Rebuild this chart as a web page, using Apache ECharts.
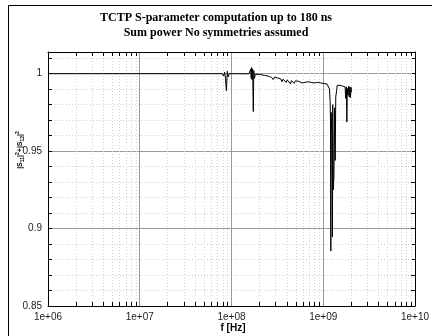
<!DOCTYPE html>
<html>
<head>
<meta charset="utf-8">
<script src="https://cdn.jsdelivr.net/npm/echarts@6/dist/echarts.min.js"></script>
<style>
  html, body { margin: 0; padding: 0; background: #fff; }
  #chart { width: 432px; height: 336px; }
</style>
</head>
<body>
<div id="chart"></div>
<script>
// Sum power |S11|^2 + |S12|^2 versus frequency (TCTP, 180 ns computation)
const freqHz = [
  1e6, 7.9e7, 8.0e7, 8.2e7, 8.4e7, 8.6e7, 8.8e7, 9.0e7, 9.2e7, 9.5e7,
  1.55e8, 1.6e8, 1.62e8, 1.64e8, 1.66e8, 1.68e8, 1.7e8, 1.73e8, 1.75e8, 1.78e8, 1.82e8,
  2.0e8, 2.3e8, 2.6e8, 2.75e8, 2.85e8, 2.95e8, 3.2e8, 3.45e8, 3.55e8, 3.65e8,
  3.8e8, 3.95e8, 4.05e8, 4.25e8, 4.4e8, 4.5e8, 4.65e8, 4.8e8, 4.95e8, 5.15e8,
  5.35e8, 5.6e8, 5.9e8, 6.2e8, 6.8e8, 7.4e8, 7.9e8, 8.3e8, 8.7e8, 9.4e8,
  1.02e9, 1.1e9, 1.15e9, 1.17e9, 1.19e9, 1.2e9, 1.21e9, 1.22e9, 1.24e9, 1.25e9,
  1.26e9, 1.27e9, 1.29e9, 1.31e9, 1.33e9, 1.35e9, 1.37e9, 1.4e9, 1.42e9, 1.47e9,
  1.52e9, 1.57e9, 1.62e9, 1.68e9, 1.73e9, 1.76e9, 1.79e9, 1.81e9, 1.83e9, 1.86e9,
  1.89e9, 1.92e9, 1.95e9, 1.98e9, 2.01e9, 2.03e9
];
const sumPower = [
  1.0, 1.0, 1.0005, 0.9985, 1.001, 0.997, 0.989, 1.0015, 0.998, 1.0,
  0.9999, 1.0, 1.003, 0.997, 1.004, 0.996, 1.003, 0.9755, 1.002, 0.997, 0.9995,
  0.9996, 0.9989, 0.9982, 0.9975, 0.9962, 0.9978, 0.9972, 0.9966, 0.9948, 0.9964,
  0.9962, 0.9944, 0.996, 0.9952, 0.9934, 0.9955, 0.9948, 0.9938, 0.9953, 0.9942,
  0.9952, 0.9947, 0.994, 0.995, 0.9948, 0.9944, 0.994, 0.993, 0.9944, 0.994,
  0.9936, 0.9934, 0.9928, 0.99, 0.982, 0.97, 0.8855, 0.975, 0.96, 0.93,
  0.8945, 0.98, 0.925, 0.935, 0.978, 0.944, 0.985, 0.989, 0.9925, 0.9915,
  0.9925, 0.9918, 0.992, 0.9912, 0.9915, 0.984, 0.9915, 0.9689, 0.9905, 0.986,
  0.992, 0.985, 0.9915, 0.9845, 0.9912, 0.988
];

const xTicks = [1e6, 1e7, 1e8, 1e9, 1e10];
const xTickLabels = ['1e+06', '1e+07', '1e+08', '1e+09', '1e+10'];
const yTicks = [0.85, 0.9, 0.95, 1];
const yTickLabels = ['0.85', '0.9', '0.95', '1'];
const yMin = 0.85, yMax = 1.014;

// minor log ticks at 2..9 of each decade
const xMinor = [];
for (let d = 6; d < 10; d++) {
  for (let m = 2; m <= 9; m++) xMinor.push([m * Math.pow(10, d), yMin]);
}

const chart = echarts.init(document.getElementById('chart'), null, { renderer: 'canvas' });

const majorGrid = { show: true, lineStyle: { color: '#9a9a9a', width: 1, type: 'solid' } };
const minorGrid = { show: true, lineStyle: { color: '#cfcfcf', width: 1, type: [1, 2] } };
const labelFont = { fontFamily: 'Liberation Sans', fontSize: 10, color: '#222' };

function xLabel(v) {
  const i = xTicks.findIndex(t => Math.abs(Math.log10(t) - Math.log10(v)) < 1e-6);
  return i >= 0 ? xTickLabels[i] : '';
}
function yLabel(v) {
  const i = yTicks.findIndex(t => Math.abs(t - v) < 1e-9);
  return i >= 0 ? yTickLabels[i] : '';
}

chart.setOption({
  animation: false,
  backgroundColor: '#fff',
  title: {
    text: 'TCTP S-parameter computation up to 180 ns\nSum power No symmetries assumed',
    left: 'center',
    top: 5,
    textStyle: {
      fontFamily: 'Liberation Serif', fontWeight: 'bold', fontSize: 12,
      lineHeight: 15, color: '#000'
    }
  },
  graphic: [
    {
      type: 'rect', silent: true, z: 0,
      shape: { x: 8.5, y: 5.5, width: 600, height: 600 },
      style: { fill: 'none', stroke: '#000', lineWidth: 1 }
    },
    {
      type: 'text', silent: true,
      x: 20, y: 150, rotation: Math.PI / 2,
      style: {
        text: '|S{sub|11}|{sup|2}+|S{sub|12}|{sup|2}',
        fontFamily: 'Liberation Sans', fontSize: 7, fontWeight: 'bold', fill: '#000',
        align: 'center', verticalAlign: 'middle',
        rich: {
          sub: { fontSize: 5, fontWeight: 'bold', verticalAlign: 'bottom', lineHeight: 10 },
          sup: { fontSize: 5, fontWeight: 'bold', verticalAlign: 'top', lineHeight: 10 }
        }
      }
    },
    {
      type: 'text', silent: true,
      x: 233, y: 328,
      style: {
        text: 'f [Hz]', fontFamily: 'Liberation Sans', fontSize: 10, fontWeight: 'bold',
        fill: '#000', align: 'center', verticalAlign: 'middle'
      }
    }
  ],
  grid: { left: 48, right: 13, top: 52, bottom: 30, containLabel: false },
  xAxis: [
    {
      type: 'log', logBase: 10, min: 1e6, max: 1e10, splitNumber: 4, position: 'bottom',
      axisLine: { show: true, onZero: false, lineStyle: { color: '#000', width: 1 } },
      axisTick: { show: false },
      axisLabel: { ...labelFont, margin: 6, formatter: xLabel },
      splitLine: majorGrid, minorTick: { show: false }
    },
    {
      type: 'log', logBase: 10, min: 1e6, max: 1e10, splitNumber: 4, position: 'top',
      axisLine: { show: true, onZero: false, lineStyle: { color: '#000', width: 1 } },
      axisTick: { show: false }, axisLabel: { show: false }, splitLine: { show: false }
    }
  ],
  yAxis: [
    {
      type: 'value', min: yMin, max: yMax, interval: 0.01, position: 'left',
      axisLine: { show: false },
      axisTick: { show: true, inside: true, length: 4, lineStyle: { color: '#000' } },
      axisLabel: { show: false }, splitLine: minorGrid
    },
    {
      type: 'value', min: yMin, max: yMax, interval: 0.05, position: 'left',
      axisLine: { show: true, onZero: false, lineStyle: { color: '#000', width: 1 } },
      axisTick: { show: false },
      axisLabel: { ...labelFont, margin: 6, showMaxLabel: false, formatter: yLabel },
      splitLine: majorGrid
    },
    {
      type: 'value', min: yMin, max: yMax, interval: 0.01, position: 'right',
      axisLine: { show: true, onZero: false, lineStyle: { color: '#000', width: 1 } },
      axisTick: { show: true, inside: true, length: 4, lineStyle: { color: '#000' } },
      axisLabel: { show: false }, splitLine: { show: false }
    }
  ],
  series: [
    {
      // dotted minor grid and inward minor ticks of the log frequency axis
      type: 'custom', xAxisIndex: 0, yAxisIndex: 1, silent: true, z: 1,
      data: xMinor,
      encode: { x: 0, y: 1 },
      renderItem: function (params, api) {
        const cs = params.coordSys;
        const x = Math.round(api.coord([api.value(0), yMin])[0]) + 0.5;
        const top = cs.y, bot = cs.y + cs.height;
        return {
          type: 'group',
          children: [
            { type: 'line', shape: { x1: x, y1: top, x2: x, y2: bot },
              style: { stroke: '#cfcfcf', lineWidth: 1, lineDash: [1, 2] } },
            { type: 'line', shape: { x1: x, y1: bot, x2: x, y2: bot - 4 },
              style: { stroke: '#000', lineWidth: 1 } },
            { type: 'line', shape: { x1: x, y1: top, x2: x, y2: top + 4 },
              style: { stroke: '#000', lineWidth: 1 } }
          ]
        };
      }
    },
    {
      type: 'line', xAxisIndex: 0, yAxisIndex: 1, z: 5,
      data: freqHz.map((f, i) => [f, sumPower[i]]),
      showSymbol: false, symbol: 'none',
      lineStyle: { color: '#000', width: 1 },
      clip: true
    }
  ]
});
</script>
</body>
</html>
